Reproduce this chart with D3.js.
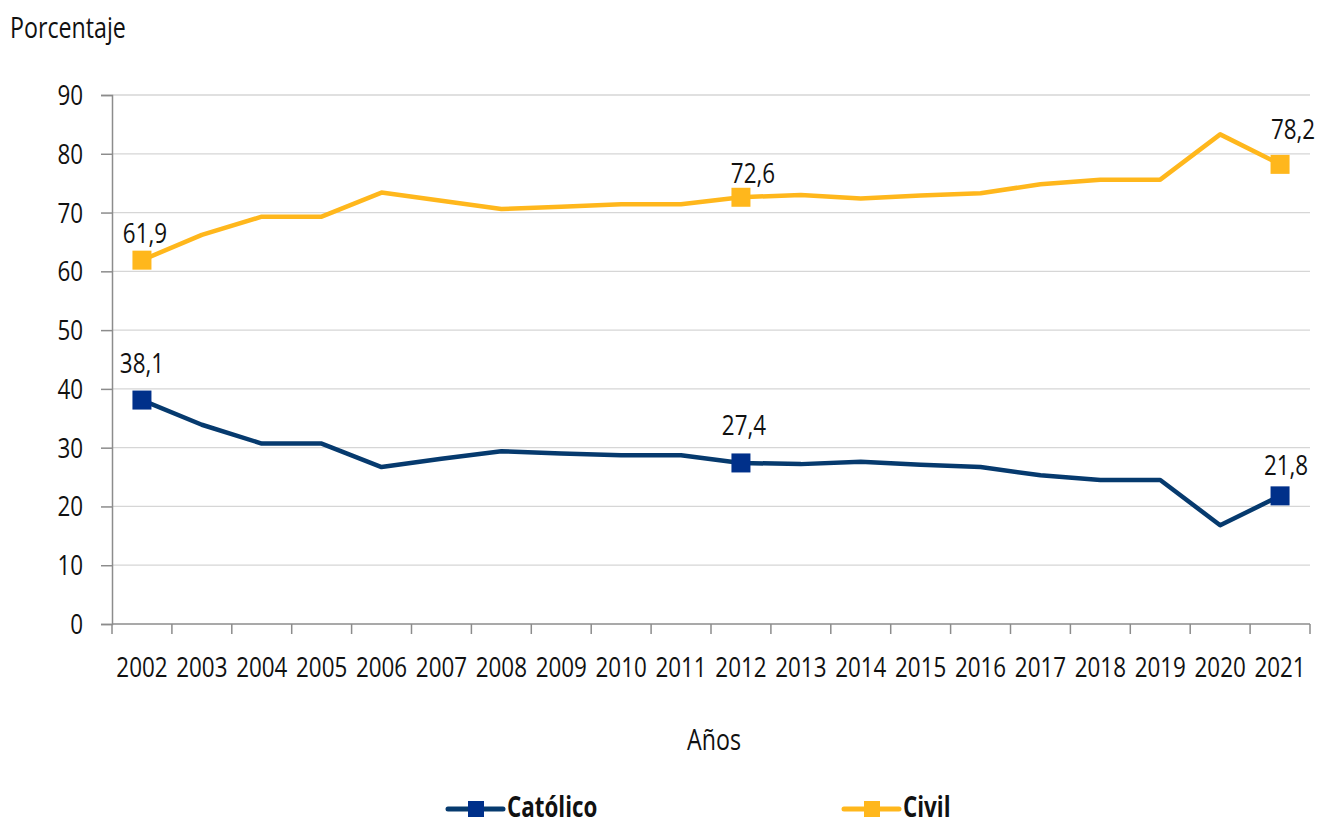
<!DOCTYPE html>
<html>
<head>
<meta charset="utf-8">
<script src="https://cdn.jsdelivr.net/npm/d3@7"></script>
<style>
  body { margin: 0; background: #fff; }
  text { font-family: "Open Sans", "Liberation Sans", sans-serif; fill: #111; }
</style>
</head>
<body>
<div id="chart"></div>
<script>
const years = ["2002","2003","2004","2005","2006","2007","2008","2009","2010","2011",
               "2012","2013","2014","2015","2016","2017","2018","2019","2020","2021"];
const catolico = [38.1, 33.9, 30.7, 30.7, 26.7, 28.1, 29.4, 29.0, 28.7, 28.7,
                  27.4, 27.2, 27.6, 27.1, 26.7, 25.3, 24.5, 24.5, 16.8, 21.8];
const civil = [61.9, 66.2, 69.3, 69.3, 73.4, 72.0, 70.6, 71.0, 71.4, 71.4,
               72.6, 73.0, 72.4, 72.9, 73.3, 74.8, 75.6, 75.6, 83.3, 78.2];
const labeledYears = ["2002", "2012", "2021"];
const yTicks = [0, 10, 20, 30, 40, 50, 60, 70, 80, 90];

const width = 1320, height = 824;
const svg = d3.select("#chart").append("svg")
    .attr("width", width)
    .attr("height", height);

const x = d3.scaleBand().domain(years).range([112, 1310]);
const y = d3.scaleLinear().domain([0, 90]).range([624, 95]);

// condensed look: squeeze text horizontally
const SQ = 0.8;
function label(parent, px, py, str, size, anchor, weight) {
    return parent.append("text")
        .attr("transform", `translate(${px},${py}) scale(${SQ},1)`)
        .attr("text-anchor", anchor || "start")
        .style("font-size", size + "px")
        .style("font-weight", weight || "normal")
        .text(str);
}

// gridlines
svg.append("g")
    .selectAll("line")
    .data(yTicks.filter(d => d > 0))
    .enter().append("line")
    .attr("x1", 112).attr("x2", 1310)
    .attr("y1", d => y(d)).attr("y2", d => y(d))
    .attr("stroke", "#d6d6d6").attr("stroke-width", 1.3);

// y axis
const yAxis = svg.append("g")
    .attr("transform", "translate(112,0)")
    .call(d3.axisLeft(y).tickValues(yTicks).tickSize(11).tickFormat(""));
yAxis.select(".domain").attr("stroke", "#8c8c8c").attr("stroke-width", 1.5);
yAxis.selectAll(".tick line").attr("stroke", "#8c8c8c").attr("stroke-width", 1.5);
yTicks.forEach(t => label(svg, 83, y(t) + 10, String(t), 28, "end"));

// x axis with ticks at category boundaries
const xAxisG = svg.append("g").attr("transform", "translate(0,624)");
xAxisG.append("line")
    .attr("x1", 112).attr("x2", 1310)
    .attr("stroke", "#8c8c8c").attr("stroke-width", 1.5);
xAxisG.selectAll(".bound")
    .data(years.concat(["end"]))
    .enter().append("line")
    .attr("x1", (d, i) => 112 + i * x.bandwidth())
    .attr("x2", (d, i) => 112 + i * x.bandwidth())
    .attr("y1", 0).attr("y2", 10)
    .attr("stroke", "#8c8c8c").attr("stroke-width", 1.5);
years.forEach(yr => label(svg, x(yr) + x.bandwidth() / 2, 677, yr, 28, "middle"));

// axis titles
label(svg, 10, 38, "Porcentaje", 29);
label(svg, 714, 750, "Años", 29, "middle");

const series = [
    { name: "Católico", values: catolico, line: "#063a6e", marker: "#00308a" },
    { name: "Civil", values: civil, line: "#ffb71c", marker: "#ffb71c" }
];

const cx = d => x(d) + x.bandwidth() / 2;
const lineGen = d3.line()
    .x((d, i) => cx(years[i]))
    .y(d => y(d));

// label offsets (dx, dy of baseline relative to marker centre)
const labelOffset = {
    "Católico": { "2002": [0, -27], "2012": [3, -28], "2021": [6, -21] },
    "Civil": { "2002": [3, -17], "2012": [12, -14], "2021": [13, -25] }
};

series.forEach(s => {
    svg.append("path")
        .datum(s.values)
        .attr("d", lineGen)
        .attr("fill", "none")
        .attr("stroke", s.line)
        .attr("stroke-width", 4.5)
        .attr("stroke-linejoin", "round");

    const pts = years.map((yr, i) => ({ yr, v: s.values[i] }))
        .filter(p => labeledYears.includes(p.yr));

    svg.selectAll(null).data(pts).enter().append("rect")
        .attr("x", p => cx(p.yr) - 9.5)
        .attr("y", p => y(p.v) - 9.5)
        .attr("width", 19).attr("height", 19)
        .attr("fill", s.marker);

    pts.forEach(p => label(svg,
        cx(p.yr) + labelOffset[s.name][p.yr][0],
        y(p.v) + labelOffset[s.name][p.yr][1],
        d3.format(".1f")(p.v).replace(".", ","), 28, "middle"));
});

// legend
const legendX = [448, 844];
series.forEach((s, i) => {
    const g = svg.append("g").attr("transform", `translate(${legendX[i]},809)`);
    g.append("line").attr("x1", 0).attr("x2", 55)
        .attr("stroke", s.line).attr("stroke-width", 5).attr("stroke-linecap", "round");
    g.append("rect").attr("x", 20).attr("y", -8).attr("width", 16).attr("height", 16)
        .attr("fill", s.marker);
    label(g, 59, 8, s.name, 28, "start", "bold");
});
</script>
</body>
</html>
